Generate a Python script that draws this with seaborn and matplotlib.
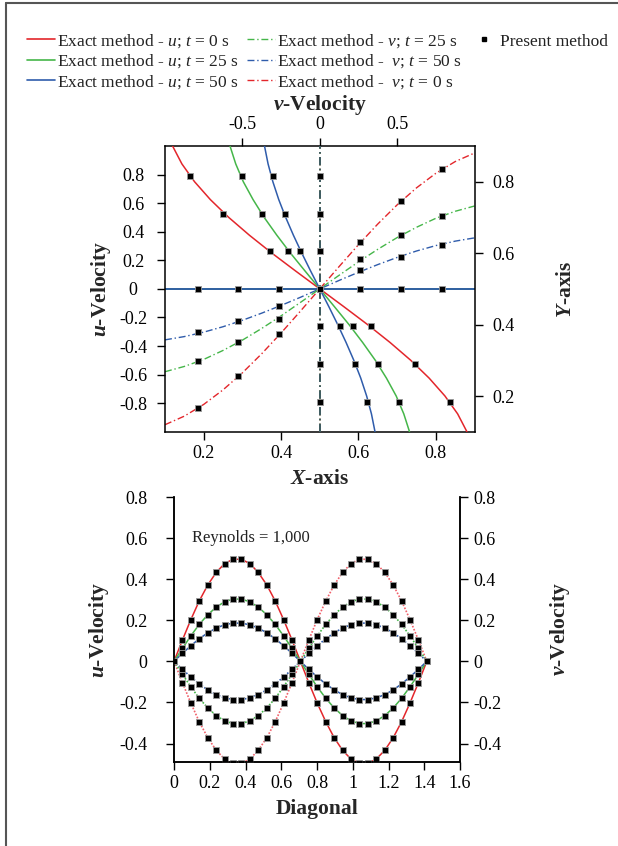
import matplotlib
matplotlib.use("Agg")
import matplotlib.pyplot as plt
from matplotlib.lines import Line2D
from matplotlib.ticker import FuncFormatter
import seaborn as sns

# ---- data: centerlines (top panel) ----
# positions along the centerline for the exact curves
line_pos = [0.1, 0.15, 0.2, 0.25, 0.3, 0.35, 0.4, 0.45, 0.5,
            0.55, 0.6, 0.65, 0.7, 0.75, 0.8, 0.85, 0.9]
# u along vertical centerline (vs Y)
u_exact_t0 = [0.951, 0.891, 0.809, 0.707, 0.588, 0.454, 0.309, 0.156, 0.0,
              -0.156, -0.309, -0.454, -0.588, -0.707, -0.809, -0.891, -0.951]
u_exact_t25 = [0.580, 0.543, 0.494, 0.431, 0.359, 0.277, 0.189, 0.095, 0.0,
               -0.095, -0.189, -0.277, -0.359, -0.431, -0.494, -0.543, -0.580]
u_exact_t50 = [0.357, 0.334, 0.303, 0.265, 0.220, 0.170, 0.116, 0.059, 0.0,
               -0.059, -0.116, -0.170, -0.220, -0.265, -0.303, -0.334, -0.357]
# v along horizontal centerline (vs X)
v_exact_t0 = [-0.951, -0.891, -0.809, -0.707, -0.588, -0.454, -0.309, -0.156, 0.0,
              0.156, 0.309, 0.454, 0.588, 0.707, 0.809, 0.891, 0.951]
v_exact_t25 = [-0.580, -0.543, -0.494, -0.431, -0.359, -0.277, -0.189, -0.095, 0.0,
               0.095, 0.189, 0.277, 0.359, 0.431, 0.494, 0.543, 0.580]
v_exact_t50 = [-0.357, -0.334, -0.303, -0.265, -0.220, -0.170, -0.116, -0.059, 0.0,
               0.059, 0.116, 0.170, 0.220, 0.265, 0.303, 0.334, 0.357]
# zero velocity along the other centerline
zero_line = [0.0] * len(line_pos)

# present method, grid nodes
grid_pos = [0.184, 0.289, 0.395, 0.5, 0.605, 0.711, 0.816]
u_pm_t0 = [0.843, 0.618, 0.328, 0.0, -0.322, -0.627, -0.837]
u_pm_t25 = [0.511, 0.375, 0.214, 0.0, -0.206, -0.373, -0.504]
u_pm_t50 = [0.307, 0.230, 0.131, 0.0, -0.129, -0.225, -0.303]
v_pm_t0 = [-0.831, -0.613, -0.318, 0.0, 0.328, 0.613, 0.839]
v_pm_t25 = [-0.504, -0.369, -0.211, 0.0, 0.212, 0.374, 0.509]
v_pm_t50 = [-0.304, -0.223, -0.121, 0.0, 0.130, 0.226, 0.307]
zero_pm = [0.0] * len(grid_pos)

# ---- data: diagonal (bottom panel) ----
diag = [0.0, 0.047, 0.094, 0.141, 0.189, 0.236, 0.283, 0.330, 0.377, 0.424,
        0.471, 0.519, 0.566, 0.613, 0.660, 0.707, 0.754, 0.801, 0.849, 0.896,
        0.943, 0.990, 1.037, 1.084, 1.131, 1.179, 1.226, 1.273, 1.320, 1.367, 1.414]
u_diag_t0 = [0.0, 0.104, 0.203, 0.294, 0.372, 0.433, 0.476, 0.497, 0.497, 0.476,
             0.433, 0.372, 0.294, 0.203, 0.104, 0.0, -0.104, -0.203, -0.294, -0.372,
             -0.433, -0.476, -0.497, -0.497, -0.476, -0.433, -0.372, -0.294, -0.203, -0.104, 0.0]
u_diag_t25 = [0.0, 0.063, 0.124, 0.180, 0.227, 0.264, 0.290, 0.303, 0.303, 0.290,
              0.264, 0.227, 0.180, 0.124, 0.063, 0.0, -0.063, -0.124, -0.180, -0.227,
              -0.264, -0.290, -0.303, -0.303, -0.290, -0.264, -0.227, -0.180, -0.124, -0.063, 0.0]
u_diag_t50 = [0.0, 0.039, 0.076, 0.110, 0.139, 0.162, 0.178, 0.186, 0.186, 0.178,
              0.162, 0.139, 0.110, 0.076, 0.039, 0.0, -0.039, -0.076, -0.110, -0.139,
              -0.162, -0.178, -0.186, -0.186, -0.178, -0.162, -0.139, -0.110, -0.076, -0.039, 0.0]
v_diag_t0 = [0.0, -0.104, -0.203, -0.294, -0.372, -0.433, -0.476, -0.497, -0.497, -0.476,
             -0.433, -0.372, -0.294, -0.203, -0.104, 0.0, 0.104, 0.203, 0.294, 0.372,
             0.433, 0.476, 0.497, 0.497, 0.476, 0.433, 0.372, 0.294, 0.203, 0.104, 0.0]
v_diag_t25 = [0.0, -0.063, -0.124, -0.180, -0.227, -0.264, -0.290, -0.303, -0.303, -0.290,
              -0.264, -0.227, -0.180, -0.124, -0.063, 0.0, 0.063, 0.124, 0.180, 0.227,
              0.264, 0.290, 0.303, 0.303, 0.290, 0.264, 0.227, 0.180, 0.124, 0.063, 0.0]
v_diag_t50 = [0.0, -0.039, -0.076, -0.110, -0.139, -0.162, -0.178, -0.186, -0.186, -0.178,
              -0.162, -0.139, -0.110, -0.076, -0.039, 0.0, 0.039, 0.076, 0.110, 0.139,
              0.162, 0.178, 0.186, 0.186, 0.178, 0.162, 0.139, 0.110, 0.076, 0.039, 0.0]

RED, GREEN, BLUE = "#e3262b", "#45b649", "#2f5cab"
DASHDOT = (0, (5, 2, 1, 2))

sns.set_theme(style="ticks")
plt.rcParams["font.family"] = ["Liberation Serif", "DejaVu Serif"]
plt.rcParams.update({
    "axes.unicode_minus": False,
    "mathtext.fontset": "custom",
    "mathtext.rm": "Liberation Serif",
    "mathtext.it": "Liberation Serif:italic",
    "mathtext.bf": "Liberation Serif:bold",
    "axes.edgecolor": "black",
    "axes.linewidth": 1.1,
    "xtick.color": "black",
    "ytick.color": "black",
    "xtick.major.size": 6,
    "ytick.major.size": 6,
    "xtick.major.width": 1.0,
    "ytick.major.width": 1.0,
    "xtick.labelsize": 13,
    "ytick.labelsize": 13,
    "text.color": "#222222",
})
try:
    plt.rcParams["mathtext.bfit"] = "Liberation Serif:italic:bold"
    BI = r"\mathbfit"
except KeyError:
    BI = r"\mathbf"

LBL = 15.5
fmt = FuncFormatter(lambda v, p: "%g" % round(v, 3))
pm_kw = dict(marker="s", s=14, color="black", edgecolor="#9a9a9a", linewidth=0.6,
             zorder=5, legend=False)

fig = plt.figure(figsize=(6.18, 8.46), dpi=100)

# ---------- top panel ----------
rect_top = [0.267, 0.4897, 0.5008, 0.3377]
ax1 = fig.add_axes(rect_top)
ax1b = fig.add_axes(rect_top, frameon=False)

# v along horizontal centerline: X (bottom) vs velocity (left)
for ys, col in [(v_exact_t50, BLUE), (v_exact_t25, GREEN), (v_exact_t0, RED)]:
    sns.lineplot(x=line_pos, y=ys, ax=ax1, color=col, lw=1.0, linestyle=DASHDOT,
                 sort=False, estimator=None)
for ys in [v_pm_t0, v_pm_t25, v_pm_t50]:
    sns.scatterplot(x=grid_pos, y=ys, ax=ax1, **pm_kw)
for col in [RED, GREEN, BLUE]:
    sns.lineplot(x=line_pos, y=zero_line, ax=ax1, color=col, lw=1.3,
                 sort=False, estimator=None)
sns.scatterplot(x=grid_pos, y=zero_pm, ax=ax1, **pm_kw)

# u along vertical centerline: velocity (top) vs Y (right)
for xs, col in [(u_exact_t0, RED), (u_exact_t25, GREEN), (u_exact_t50, BLUE)]:
    sns.lineplot(x=xs, y=line_pos, ax=ax1b, color=col, lw=1.1,
                 sort=False, estimator=None, orient="y")
for xs in [u_pm_t0, u_pm_t25, u_pm_t50]:
    sns.scatterplot(x=xs, y=grid_pos, ax=ax1b, **pm_kw)
for col in [RED, GREEN, "#3a5068"]:
    sns.lineplot(x=zero_line, y=line_pos, ax=ax1b, color=col, lw=1.2, linestyle=DASHDOT,
                 sort=False, estimator=None, orient="y")
sns.scatterplot(x=zero_pm, y=grid_pos, ax=ax1b, **pm_kw)

ax1.set_xlim(0.1, 0.9)
ax1.set_ylim(-1, 1)
ax1.set_xticks([0.2, 0.4, 0.6, 0.8])
ax1.set_yticks([-0.8, -0.6, -0.4, -0.2, 0, 0.2, 0.4, 0.6, 0.8])
ax1.xaxis.set_major_formatter(fmt)
ax1.yaxis.set_major_formatter(fmt)
ax1.tick_params(axis="y", pad=17)
for lbl in ax1.get_yticklabels():
    lbl.set_horizontalalignment("center")
ax1.set_xlabel(r"$%s{X}$-axis" % BI, fontsize=LBL, fontweight="bold", labelpad=5)
ax1.set_ylabel(r"$%s{u}$-Velocity" % BI, fontsize=LBL, fontweight="bold", labelpad=4.5)

ax1b.set_xlim(-1, 1)
ax1b.set_ylim(0.1, 0.9)
ax1b.patch.set_visible(False)
ax1b.xaxis.tick_top()
ax1b.xaxis.set_label_position("top")
ax1b.yaxis.tick_right()
ax1b.yaxis.set_label_position("right")
ax1b.set_xticks([-0.5, 0, 0.5])
ax1b.set_yticks([0.2, 0.4, 0.6, 0.8])
ax1b.xaxis.set_major_formatter(fmt)
ax1b.yaxis.set_major_formatter(fmt)
ax1b.tick_params(axis="y", pad=7)
ax1b.set_xlabel(r"$%s{v}$-Velocity" % BI, fontsize=LBL, fontweight="bold", labelpad=4)
ax1b.set_ylabel(r"$%s{Y}$-axis" % BI, fontsize=LBL, fontweight="bold", labelpad=30,
                rotation=90)

# ---------- bottom panel ----------
ax2 = fig.add_axes([0.2816, 0.0993, 0.4628, 0.3132])
for ys, col in [(u_diag_t0, RED), (u_diag_t25, GREEN), (u_diag_t50, BLUE)]:
    sns.lineplot(x=diag, y=ys, ax=ax2, color=col, lw=1.1, sort=False, estimator=None)
for ys, col in [(v_diag_t0, "#f0606a"), (v_diag_t25, GREEN), (v_diag_t50, BLUE)]:
    sns.lineplot(x=diag, y=ys, ax=ax2, color=col, lw=1.2, linestyle=(0, (1, 1)),
                 sort=False, estimator=None)
for ys in [u_diag_t0, u_diag_t25, u_diag_t50, v_diag_t0, v_diag_t25, v_diag_t50]:
    sns.scatterplot(x=diag, y=ys, ax=ax2, **pm_kw)

ax2.set_xlim(0, 1.6)
ax2.set_ylim(-0.49, 0.8)
ax2.set_xticks([0, 0.2, 0.4, 0.6, 0.8, 1.0, 1.2, 1.4, 1.6])
ax2.set_yticks([-0.4, -0.2, 0, 0.2, 0.4, 0.6, 0.8])
ax2.xaxis.set_major_formatter(fmt)
ax2.yaxis.set_major_formatter(fmt)
ax2.tick_params(axis="y", pad=13)
ax2.spines["top"].set_visible(False)
ax2.set_xlabel("Diagonal", fontsize=LBL, fontweight="bold", labelpad=5)
ax2.set_ylabel(r"$%s{u}$-Velocity" % BI, fontsize=LBL, fontweight="bold", labelpad=6)
ax2.text(0.1, 0.6, "Reynolds = 1,000", fontsize=12, va="center", ha="left")

ax2r = ax2.twinx()
ax2r.set_ylim(ax2.get_ylim())
ax2r.set_yticks([-0.4, -0.2, 0, 0.2, 0.4, 0.6, 0.8])
ax2r.yaxis.set_major_formatter(fmt)
ax2r.spines["top"].set_visible(False)
ax2r.set_ylabel(r"$%s{v}$-Velocity" % BI, fontsize=LBL, fontweight="bold", labelpad=33.5,
                rotation=90)

# ---------- legend ----------
blank = Line2D([], [], linestyle="none")
handles = [
    Line2D([], [], color=RED, lw=1.2),
    Line2D([], [], color=GREEN, lw=1.2),
    Line2D([], [], color=BLUE, lw=1.2),
    Line2D([], [], color=GREEN, lw=1.0, linestyle=DASHDOT),
    Line2D([], [], color=BLUE, lw=1.0, linestyle=DASHDOT),
    Line2D([], [], color=RED, lw=1.0, linestyle=DASHDOT),
    Line2D([], [], color="black", marker="s", markersize=3.5, linestyle="none"),
    blank, blank,
]
labels = [
    r"Exact method - $u$; $t$ = 0 s",
    r"Exact method - $u$; $t$ = 25 s",
    r"Exact method - $u$; $t$ = 50 s",
    r"Exact method - $v$; $t$ = 25 s",
    r"Exact method -  $v$; $t$ = 50 s",
    r"Exact method -  $v$; $t$ = 0 s",
    "Present method",
    " ", " ",
]
fig.legend(handles, labels, ncol=3, loc="upper center", bbox_to_anchor=(0.514, 0.962),
           frameon=False, fontsize=12.5, handlelength=1.6, handletextpad=0.15,
           columnspacing=0.45, labelspacing=0.15, borderaxespad=0, borderpad=0)

# outer frame (top and left edges)
fig.add_artist(Line2D([0.0105, 0.0105], [0, 0.997], transform=fig.transFigure,
                      color="#555555", lw=1.5))
fig.add_artist(Line2D([0.0105, 1.0], [0.997, 0.997], transform=fig.transFigure,
                      color="#555555", lw=1.5))

fig.savefig("out.png", dpi=100)
